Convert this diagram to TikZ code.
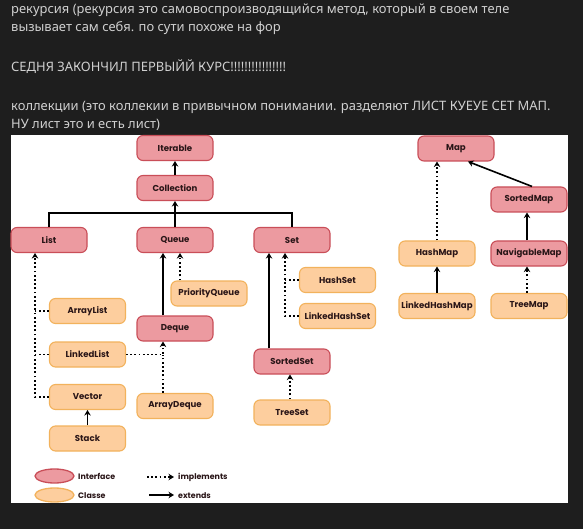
\documentclass[tikz,border=0pt]{standalone}
\usepackage{fontspec}
\setmainfont{Noto Sans}
\newfontfamily\diagfont{Poppins}
\usetikzlibrary{arrows.meta,shapes.geometric}
\definecolor{bgdark}{HTML}{1E1E1E}
\definecolor{toptext}{HTML}{D0D0D0}
\definecolor{ifill}{HTML}{EC9AA0}
\definecolor{idraw}{HTML}{C94E58}
\definecolor{cfill}{HTML}{FDCE9E}
\definecolor{cdraw}{HTML}{F2B25C}
\definecolor{ntext}{HTML}{2A1618}
\tikzset{
  toptxt/.style={anchor=base west,inner sep=0pt,text=toptext,font=\fontsize{12.95}{15}\selectfont},
  basebox/.style={rounded corners=6pt,minimum width=76pt,minimum height=25pt,inner sep=1pt,line width=1.1pt,text=ntext,font=\diagfont\bfseries\fontsize{8.6}{10}\selectfont},
  iface/.style={basebox,fill=ifill,draw=idraw},
  klass/.style={basebox,fill=cfill,draw=cdraw},
  ext/.style={line width=1.6pt,-{Stealth[length=5.5pt,width=6.5pt]}},
  extline/.style={line width=1.6pt},
  impl/.style={line width=1.8pt,dash pattern=on 1.8pt off 2.4pt,-{Stealth[length=5.5pt,width=6.5pt]}},
  implline/.style={line width=1.8pt,dash pattern=on 1.8pt off 2.4pt},
  legtxt/.style={anchor=west,inner sep=0pt,text=ntext,font=\diagfont\bfseries\fontsize{7.9}{9}\selectfont},
}
\begin{document}
\begin{tikzpicture}[x=1pt,y=-1pt]
\useasboundingbox (0,0) rectangle (583,529);
\fill[bgdark] (0,0) rectangle (583,529);
\node[toptxt] (t1) at (11,13.5) {рекурсия (рекурсия это самовоспроизводящийся метод, который в своем теле};
\node[toptxt] (t2) at (11,31.5) {вызывает сам себя. по сути похоже на фор};
\node[toptxt] (t3) at (11,72) {СЕДНЯ ЗАКОНЧИЛ ПЕРВЫЙЙ КУРС!!!!!!!!!!!!!!!!};
\node[toptxt] (t4) at (11,110.5) {коллекции (это коллекии в привычном понимании. разделяют ЛИСТ КУЕУЕ СЕТ МАП.};
\node[toptxt] (t5) at (11,128.5) {НУ лист это и есть лист)};
\fill[white] (11,135) rectangle (568,503);
% interfaces
\node[iface] (iter) at (175,148) {Iterable};
\node[iface] (coll) at (175,188) {Collection};
\node[iface] (list) at (49,240) {List};
\node[iface] (queue) at (175,240) {Queue};
\node[iface] (set) at (292,240) {Set};
\node[iface] (deque) at (175,328.5) {Deque};
\node[iface] (sset) at (292,361.5) {SortedSet};
\node[iface] (map) at (456,148.5) {Map};
\node[iface] (smap) at (529,199.5) {SortedMap};
\node[iface] (nmap) at (529,253.5) {NavigableMap};
% classes
\node[klass] (alist) at (87.5,311) {ArrayList};
\node[klass] (llist) at (87.5,354.5) {LinkedList};
\node[klass] (vec) at (87.5,397) {Vector};
\node[klass] (stack) at (87.5,438.5) {Stack};
\node[klass] (pq) at (209,293.5) {PriorityQueue};
\node[klass] (adeq) at (175,406) {ArrayDeque};
\node[klass] (hset) at (337.5,280) {HashSet};
\node[klass] (lhset) at (337.5,316) {LinkedHashSet};
\node[klass] (tset) at (292,412.5) {TreeSet};
\node[klass] (hmap) at (437,253.5) {HashMap};
\node[klass] (lhmap) at (437,306) {LinkedHashMap};
\node[klass] (tmap) at (529,306) {TreeMap};
% collection tree
\draw[ext] (coll) -- (iter);
\coordinate (bar) at (175,213);
\draw[extline] (list.north) |- (bar);
\draw[extline] (set.north) |- (bar);
\draw[ext] (queue) -- (coll);
% queue
\coordinate (qd) at ([xshift=-12pt]queue.south);
\draw[ext] (qd |- deque.north) -- (qd);
\coordinate (qp) at ([xshift=5pt]queue.south);
\draw[impl] (qp |- pq.north) -- (qp);
\coordinate (dd) at ([xshift=-12pt]deque.south);
\draw[impl] (llist.east) -| (dd);
\draw[implline] (dd |- adeq.north) -- (dd |- llist.east);
% list
\coordinate (lb) at ([xshift=-14pt]list.south);
\draw[impl] (vec.west) -| (lb);
\draw[implline] (alist.west) -- (alist.west -| lb);
\draw[implline] (llist.west) -- (llist.west -| lb);
\draw[ext] (stack) -- (vec);
% set
\coordinate (sb) at ([xshift=-7pt]set.south);
\draw[impl] (lhset.west) -| (sb);
\draw[implline] (hset.west) -- (hset.west -| sb);
\coordinate (ss) at ([xshift=-23pt]set.south);
\draw[ext] (ss |- sset.north) -- (ss);
\coordinate (ts) at ([xshift=-2pt]sset.south);
\draw[impl] (ts |- tset.north) -- (ts);
% map
\draw[impl] (hmap) -- (map.south -| hmap);
\draw[ext] ([xshift=3pt]smap.north) -- ([xshift=12pt]map.south);
\coordinate (ns) at ([xshift=-2pt]smap.south);
\draw[ext] (ns |- nmap.north) -- (ns);
\draw[ext] (lhmap) -- (hmap);
\coordinate (nt) at ([xshift=-2pt]nmap.south);
\draw[impl] (nt |- tmap.north) -- (nt);
% legend
\node[ellipse,fill=ifill,draw=idraw,line width=1.3pt,minimum width=39pt,minimum height=14pt,inner sep=0pt] (leg1) at (54.5,476) {};
\node[ellipse,fill=cfill,draw=cdraw,line width=1.3pt,minimum width=39pt,minimum height=14pt,inner sep=0pt] (leg2) at (54.5,495) {};
\node[legtxt] (legt1) at (78,476.5) {Interface};
\node[legtxt] (legt2) at (78,495.5) {Classe};
\coordinate (la1) at (147,477);
\coordinate (la2) at (174,477);
\coordinate (lb1) at (149,495);
\coordinate (lb2) at (174,495);
\draw[impl] (la1) -- (la2);
\draw[ext] (lb1) -- (lb2);
\node[legtxt] (legt3) at (178,477) {implements};
\node[legtxt] (legt4) at (178,495.5) {extends};
\end{tikzpicture}
\end{document}
